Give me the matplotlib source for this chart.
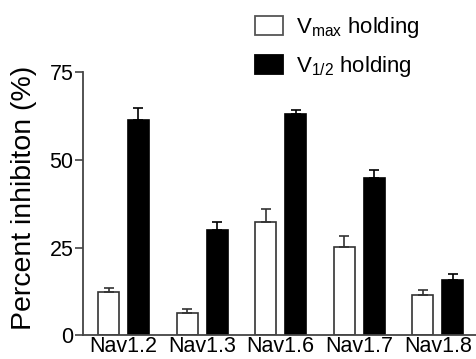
import matplotlib
matplotlib.use("Agg")
import matplotlib.pyplot as plt
from matplotlib.patches import Patch
import numpy as np

plt.rcParams['font.family'] = ['Liberation Sans', 'DejaVu Sans']
plt.rcParams['mathtext.fontset'] = 'custom'
plt.rcParams['mathtext.rm'] = 'Liberation Sans'
plt.rcParams['mathtext.it'] = 'Liberation Sans'

categories = ["Nav1.2", "Nav1.3", "Nav1.6", "Nav1.7", "Nav1.8"]
vmax_vals = [12.4, 6.4, 32.2, 25.2, 11.4]
vmax_err = [1.1, 0.9, 3.9, 3.1, 1.6]
vhalf_vals = [61.4, 30.0, 63.0, 44.8, 15.6]
vhalf_err = [3.4, 2.4, 1.3, 2.3, 1.7]
yticks = [0, 25, 50, 75]

fig = plt.figure(figsize=(4.76, 3.59), dpi=100)
ax = fig.add_axes([83/476, 1-335/359, (476-83)/476, (335-72.5)/359])

x = np.arange(len(categories))
w = 0.267
off = 0.19
ax.bar(x - off, vmax_vals, w, color='white', edgecolor='#333333', linewidth=1.2,
       yerr=[np.zeros(len(x)), vmax_err], error_kw=dict(ecolor='#333333', elinewidth=1.2, capsize=3.3, capthick=1.2))
ax.bar(x + off, vhalf_vals, w, color='black', edgecolor='black', linewidth=1.2,
       yerr=[np.zeros(len(x)), vhalf_err], error_kw=dict(ecolor='black', elinewidth=1.2, capsize=3.3, capthick=1.2))

ax.set_xlim(-0.515, 4.485)
ax.set_ylim(0, 75)
ax.set_yticks(yticks)
ax.set_xticks(x)
ax.set_xticklabels(categories, fontsize=15.5)
ax.tick_params(axis='x', length=0, pad=1)
ax.tick_params(axis='y', length=6, width=1.2, labelsize=15.5, pad=1, color='#444444')
for s in ['top', 'right']:
    ax.spines[s].set_visible(False)
for s in ['left', 'bottom']:
    ax.spines[s].set_linewidth(1.3)
    ax.spines[s].set_color('#444444')
fig.text(24/476, 1-198/359, "Percent inhibiton (%)", fontsize=20.5, rotation=90,
         ha='center', va='center')

handles = [Patch(facecolor='white', edgecolor='#555555', linewidth=1.3),
           Patch(facecolor='black', edgecolor='black', linewidth=1.3)]
labels = [r'V$_{\mathrm{max}}$ holding', r'V$_{\mathrm{1/2}}$ holding']
fig.legend(handles, labels, loc='upper left', bbox_to_anchor=(255/476, 1-15/359),
           frameon=False, fontsize=16, handlelength=1.25, handleheight=0.95,
           handletextpad=0.6, labelspacing=0.62, borderaxespad=0, borderpad=0)

fig.savefig("out.png", dpi=100)
